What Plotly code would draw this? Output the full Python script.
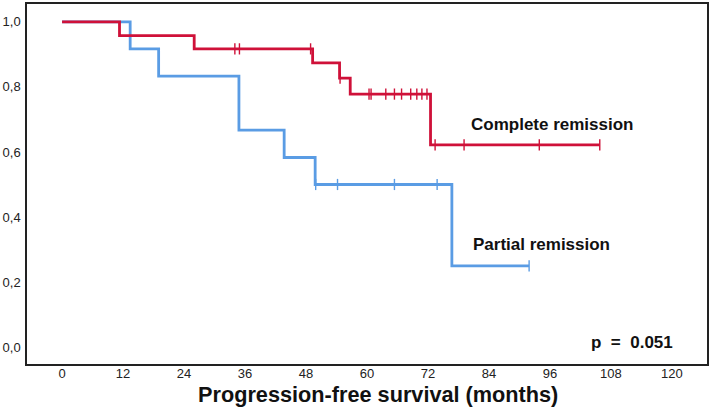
import plotly.graph_objects as go

# Complete remission (red) Kaplan-Meier steps
cr_time = [0, 11.3, 26.0, 49.3, 54.6, 56.7, 72.5, 105.8]
cr_surv = [1.0, 0.958, 0.917, 0.874, 0.827, 0.778, 0.622, 0.622]
cr_cens_time = [34.0, 34.9, 48.9, 54.7, 60.4, 60.8, 63.7, 65.4, 66.8, 68.6, 69.8, 70.8, 71.8, 73.4, 79.1, 93.9, 105.8]
cr_cens_surv = [0.917, 0.917, 0.917, 0.827, 0.778, 0.778, 0.778, 0.778, 0.778, 0.778, 0.778, 0.778, 0.778, 0.622, 0.622, 0.622, 0.622]

# Partial remission (blue) Kaplan-Meier steps
pr_time = [0, 13.4, 19.0, 34.8, 43.7, 49.8, 76.7, 91.9]
pr_surv = [1.0, 0.917, 0.833, 0.667, 0.583, 0.5, 0.25, 0.25]
pr_cens_time = [49.9, 54.2, 65.4, 73.8, 91.9]
pr_cens_surv = [0.5, 0.5, 0.5, 0.5, 0.25]

x_ticks = [0, 12, 24, 36, 48, 60, 72, 84, 96, 108, 120]
y_ticks = [0.0, 0.2, 0.4, 0.6, 0.8, 1.0]
y_tick_text = ["0,0", "0,2", "0,4", "0,6", "0,8", "1,0"]

RED = "#cf1139"
BLUE = "#5a9ce4"
FONT = "Liberation Sans, Arial, sans-serif"

fig = go.Figure()
fig.add_trace(go.Scatter(x=pr_time, y=pr_surv, mode="lines", line=dict(color=BLUE, width=2.8, shape="hv"),
                         hoverinfo="skip", showlegend=False))
fig.add_trace(go.Scatter(x=pr_cens_time, y=pr_cens_surv, mode="markers",
                         marker=dict(symbol="line-ns", size=8, line=dict(color=BLUE, width=1.4)),
                         showlegend=False))
fig.add_trace(go.Scatter(x=cr_time, y=cr_surv, mode="lines", line=dict(color=RED, width=2.8, shape="hv"),
                         hoverinfo="skip", showlegend=False))
fig.add_trace(go.Scatter(x=cr_cens_time, y=cr_cens_surv, mode="markers",
                         marker=dict(symbol="line-ns", size=8, line=dict(color=RED, width=1.4)),
                         showlegend=False))

fig.add_annotation(x=80.1, y=0.683, xref="x", yref="y", text="<b>Complete remission</b>", showarrow=False,
                   xanchor="left", yanchor="middle", font=dict(family=FONT, size=17, color="#111"))
fig.add_annotation(x=80.5, y=0.314, xref="x", yref="y", text="<b>Partial remission</b>", showarrow=False,
                   xanchor="left", yanchor="middle", font=dict(family=FONT, size=17, color="#111"))
fig.add_annotation(x=120.6, y=0.015, xref="x", yref="y", text="<b>p  =  0.051</b>", showarrow=False,
                   xanchor="right", yanchor="middle", font=dict(family=FONT, size=17, color="#111"))
fig.add_annotation(x=62.2, y=-0.086, xref="x", yref="paper", text="<b>Progression-free survival (months)</b>",
                   showarrow=False, xanchor="center", yanchor="middle", font=dict(family=FONT, size=21.7, color="#111"))

fig.update_layout(
    width=709, height=411,
    margin=dict(l=27, r=2, t=4, b=47),
    paper_bgcolor="white", plot_bgcolor="white",
    font=dict(family=FONT, size=13, color="#222"),
    showlegend=False,
)
fig.update_xaxes(range=[-6.9, 126.9], tickvals=x_ticks, ticktext=[str(v) for v in x_ticks],
                 showgrid=False, zeroline=False, showline=True, linecolor="#222", linewidth=1.5, mirror=True,
                 ticks="", ticklabelstandoff=-3, automargin=False)
fig.update_yaxes(range=[-0.052, 1.055], tickvals=y_ticks, ticktext=y_tick_text,
                 showgrid=False, zeroline=False, showline=True, linecolor="#222", linewidth=1.5, mirror=True,
                 ticks="", ticklabelstandoff=2, automargin=False)

fig.write_html("out.html", config={"displayModeBar": False},
               post_script="document.body.style.margin='0';document.body.style.overflow='hidden';")
